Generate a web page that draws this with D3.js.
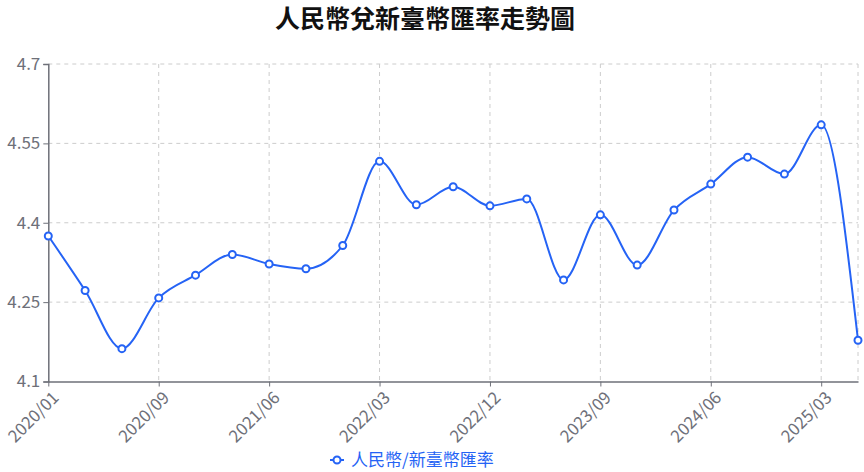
<!DOCTYPE html>
<meta charset="utf-8">
<style>
body { margin: 0; background: #fff; }
text { font-family: "Noto Sans CJK TC", "Noto Sans", sans-serif; }
</style>
<svg width="864" height="472"></svg>
<script src="https://cdn.jsdelivr.net/npm/d3@7"></script>
<script>

var months = ["2020/01","2020/03","2020/06","2020/09","2020/12","2021/03","2021/06","2021/09","2021/12",
  "2022/03","2022/06","2022/09","2022/12","2023/03","2023/06","2023/09","2023/12",
  "2024/03","2024/06","2024/09","2024/12","2025/03","2025/06"];
var rates = [4.375, 4.272, 4.162, 4.258, 4.301, 4.340, 4.322, 4.313, 4.357,
  4.516, 4.434, 4.468, 4.432, 4.445, 4.292, 4.415, 4.320,
  4.424, 4.473, 4.524, 4.492, 4.585, 4.178];
var yTicks = [4.1, 4.25, 4.4, 4.55, 4.7];
var title = "人民幣兌新臺幣匯率走勢圖";
var seriesName = "人民幣/新臺幣匯率";

var svg = d3.select("svg"),
    plotLeft = 48.3, plotRight = 858, plotTop = 64, plotBottom = 381.5,
    blue = "#2563f5", gray = "#6e7079";

var x = d3.scalePoint().domain(months).range([plotLeft, plotRight]);
var y = d3.scaleLinear().domain([4.1, 4.7]).range([plotBottom, plotTop]);

var labeled = months.filter(function(d, i) { return i % 3 === 0; });

// grid
svg.append("g").selectAll("line")
    .data(yTicks.slice(1))
    .enter().append("line")
      .attr("x1", plotLeft).attr("x2", plotRight)
      .attr("y1", function(d) { return y(d); })
      .attr("y2", function(d) { return y(d); })
      .attr("stroke", "#ccc").attr("stroke-dasharray", "4,4");

svg.append("g").selectAll("line")
    .data(labeled.slice(1).concat([months[months.length - 1]]))
    .enter().append("line")
      .attr("x1", function(d) { return x(d); })
      .attr("x2", function(d) { return x(d); })
      .attr("y1", plotTop).attr("y2", plotBottom)
      .attr("stroke", "#ccc").attr("stroke-dasharray", "4,4");

// y axis
var yAxis = svg.append("g")
    .attr("transform", "translate(" + plotLeft + ",0)")
    .call(d3.axisLeft(y).tickValues(yTicks).tickSize(5).tickPadding(3).tickFormat(d3.format("")));
yAxis.select(".domain").attr("stroke", gray).attr("stroke-width", 1.5);
yAxis.selectAll(".tick line").attr("stroke", gray);
yAxis.selectAll("text").attr("fill", gray).style("font-size", "17px");

// x axis
var xAxis = svg.append("g")
    .attr("transform", "translate(0," + plotBottom + ")")
    .call(d3.axisBottom(x).tickValues(labeled).tickSize(5).tickSizeOuter(0));
xAxis.select(".domain").attr("stroke", gray).attr("stroke-width", 1.5);
xAxis.selectAll(".tick line").attr("stroke", gray);
xAxis.selectAll("text")
    .attr("fill", gray)
    .style("font-size", "17px")
    .attr("text-anchor", "end")
    .attr("y", 0)
    .attr("dy", "0.35em")
    .attr("transform", "translate(7,13) rotate(-45)");

// line
var line = d3.line()
    .x(function(d, i) { return x(months[i]); })
    .y(function(d) { return y(d); })
    .curve(d3.curveMonotoneX);

svg.append("path")
    .datum(rates)
    .attr("d", line)
    .attr("fill", "none")
    .attr("stroke", blue)
    .attr("stroke-width", 2);

svg.append("g").selectAll("circle")
    .data(rates)
    .enter().append("circle")
      .attr("cx", function(d, i) { return x(months[i]); })
      .attr("cy", function(d) { return y(d); })
      .attr("r", 3.5)
      .attr("fill", "#fff")
      .attr("stroke", blue)
      .attr("stroke-width", 2);

// title
svg.append("text")
    .attr("x", 425).attr("y", 28)
    .attr("text-anchor", "middle")
    .style("font-size", "25px").style("font-weight", "bold")
    .attr("fill", "#111")
    .text(title);

// legend
var lg = svg.append("g").attr("transform", "translate(330,460)");
lg.append("line").attr("x1", 0).attr("x2", 14).attr("stroke", blue).attr("stroke-width", 2);
lg.append("circle").attr("cx", 7).attr("r", 3.5).attr("fill", "#fff").attr("stroke", blue).attr("stroke-width", 2);
lg.append("text")
    .attr("x", 21).attr("dy", "0.35em")
    .style("font-size", "17px")
    .attr("fill", blue)
    .text(seriesName);

</script>
